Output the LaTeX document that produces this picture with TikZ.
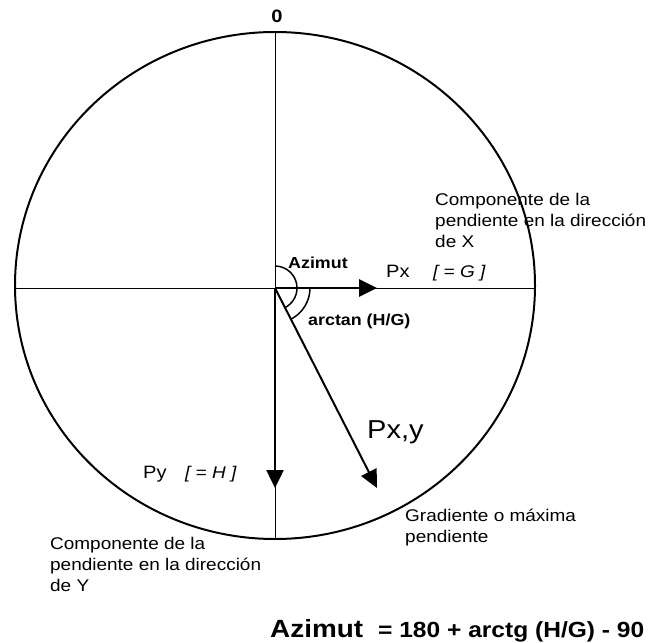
\documentclass[tikz,border=0pt]{standalone}
\usepackage{fontspec}
\setmainfont{Liberation Sans}[FakeStretch=1.12]
\usetikzlibrary{arrows.meta}
\newcommand{\fsz}[1]{\fontsize{#1}{21}\selectfont}
\newcommand{\vecarr}[3]{\draw[-{Triangle[length=18, width=17]}, line width=#3] (O) -- (#1) coordinate[pos=1] (#2);}

\begin{document}
\begin{tikzpicture}[x=1bp, y=1bp,
  every node/.style={inner sep=0pt, font=\fsz{17}},
  txt/.style={anchor=north west, align=left},
  bold/.style={font=\fsz{#1}\bfseries}]
\useasboundingbox (0,0) rectangle (653,-643);
% circle and axes
\coordinate (O) at (275,-288);
\coordinate (C) at (275,-285.5);
\coordinate (N) at (275,-32);
\coordinate (S) at (275,-539);
\coordinate (W) at (15,-288);
\coordinate (E) at (535,-288);
\draw[line width=2] (C) ellipse[x radius=260, y radius=253.5];
\draw[line width=1] (W) -- (E);
\draw[line width=1] (N) -- (S);
\node[bold=18] (zero) at (277,-16) {0};
% angles
\draw[line width=1.5] (O) ++(90:22) arc[start angle=90, end angle=-63, radius=22];
\draw[line width=1.5] (O) ++(0:35) arc[start angle=0, end angle=-63, radius=35];
\node[bold=16, anchor=base west] (azlab) at (288,-268) {Azimut};
\node[bold=16, anchor=base west] (atlab) at (308,-325) {arctan (H/G)};
% vectors
\vecarr{377,-288}{px}{3}
\vecarr{275,-488}{py}{2.5}
\vecarr{377,-488}{pxy}{2}
\node[font=\fsz{18}, anchor=base west] (pxlab) at (386,-277) {Px};
\node[font=\fsz{17}\itshape, anchor=base west] (glab) at (433,-277) {[ = G ]};
\node[font=\fsz{18}, anchor=base west] (pylab) at (143,-478) {Py};
\node[font=\fsz{17}\itshape, anchor=base west] (hlab) at (185,-478) {[ = H ]};
\node[font=\fsz{26}, anchor=base west] (pxylab) at (367,-438) {Px,y};
% descriptions
\node[txt] (compx) at (435,-193) {Componente de la\\pendiente en la dirección\\de X};
\node[txt] (compy) at (50,-537) {Componente de la\\pendiente en la dirección\\de Y};
\node[txt] (grad) at (405,-509) {Gradiente o máxima\\pendiente};
% formula
\node[bold=25, anchor=base west] (azf) at (270,-637) {Azimut};
\node[bold=22, anchor=base west] (form) at (378,-637) {= 180 + arctg (H/G) - 90};
\end{tikzpicture}
\end{document}
